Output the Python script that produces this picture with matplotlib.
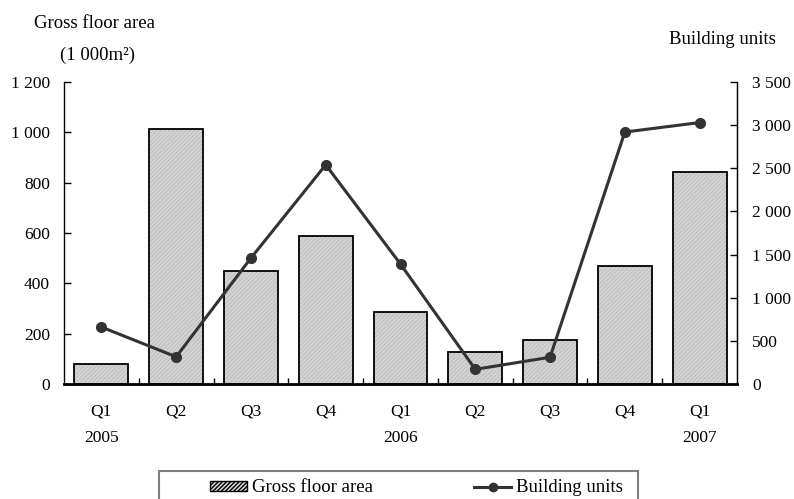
import matplotlib.pyplot as plt
from matplotlib.patches import Rectangle
from matplotlib.lines import Line2D
from matplotlib.ticker import FuncFormatter

quarters = ['Q1\n2005', 'Q2', 'Q3', 'Q4', 'Q1\n2006', 'Q2', 'Q3', 'Q4', 'Q1\n2007']
floor_area = [80, 1015, 450, 590, 285, 128, 175, 470, 843]
building_units = [660, 315, 1460, 2540, 1390, 170, 310, 2920, 3030]

plt.rcParams['font.family'] = ['Liberation Serif', 'DejaVu Serif']
plt.rcParams['font.size'] = 12.5


def spaced(v, pos):
	# thousands separated with a space
	return '{:,.0f}'.format(v).replace(',', ' ')


fig = plt.figure(figsize=(7.94, 4.99), dpi=100)
ax = fig.add_axes([64 / 794, 1 - 384 / 499, (737 - 64) / 794, (384 - 82) / 499])
ax2 = ax.twinx()

x = list(range(len(quarters)))

# hatched fill first, then the black outline on top
ax.bar(x, floor_area, width=0.72, color='#d6d6d6', edgecolor='#c2c2c2',
	hatch='////////', linewidth=0, zorder=2)
ax.bar(x, floor_area, width=0.72, fill=False, edgecolor='black', linewidth=1.3, zorder=3)

ax2.plot(x, building_units, color='#333333', linewidth=2.2, marker='o', markersize=7, zorder=4)

ax.set_xlim(-0.5, 8.5)
ax.set_ylim(0, 1200)
ax2.set_ylim(0, 3500)
ax.set_yticks(range(0, 1201, 200))
ax2.set_yticks(range(0, 3501, 500))
ax.yaxis.set_major_formatter(FuncFormatter(spaced))
ax2.yaxis.set_major_formatter(FuncFormatter(spaced))

ax.set_xticks(x)
ax.set_xticklabels(quarters, linespacing=1.85)
ax.set_xticks([i + 0.5 for i in range(8)], minor=True)
ax.tick_params(axis='x', which='major', length=0, pad=14)
ax.tick_params(axis='x', which='minor', direction='in', length=4, width=1)
ax.tick_params(axis='y', direction='in', length=5, width=1, pad=10)
ax2.tick_params(axis='y', direction='in', length=5, width=1, pad=11)

for a in (ax, ax2):
	a.spines['top'].set_visible(False)
ax.spines['bottom'].set_linewidth(2)
ax.spines['left'].set_linewidth(1)
ax2.spines['right'].set_linewidth(1)
ax2.spines['left'].set_visible(False)
ax2.spines['bottom'].set_visible(False)

fig.text(95 / 794, 1 - 24 / 499, 'Gross floor area', ha='center', va='center', fontsize=13.5)
fig.text(97 / 794, 1 - 55 / 499, '(1 000m\u00b2)', ha='center', va='center', fontsize=13.5)
fig.text(722 / 794, 1 - 39 / 499, 'Building units', ha='center', va='center', fontsize=13.5)

# legend box runs off the bottom of the figure
fig.patches.append(Rectangle((159 / 794, -0.05), (638 - 159) / 794, 0.05 + 28 / 499,
	transform=fig.transFigure, fill=False, edgecolor='#808080', linewidth=1.5))
handles = [Rectangle((0, 0), 1, 1, facecolor='#d6d6d6', edgecolor='black', hatch='////////', linewidth=1),
	Line2D([], [], color='#333333', linewidth=2.2, marker='o', markersize=6)]
fig.legend(handles, ['Gross floor area', 'Building units'], ncol=2, frameon=False,
	loc='center left', bbox_to_anchor=(210 / 794, 1 - 488 / 499), handlelength=1.97,
	handleheight=0.45, handletextpad=0.27, columnspacing=5.4, borderpad=0,
	borderaxespad=0, fontsize=13.5)

plt.savefig('out.png', dpi=100)
